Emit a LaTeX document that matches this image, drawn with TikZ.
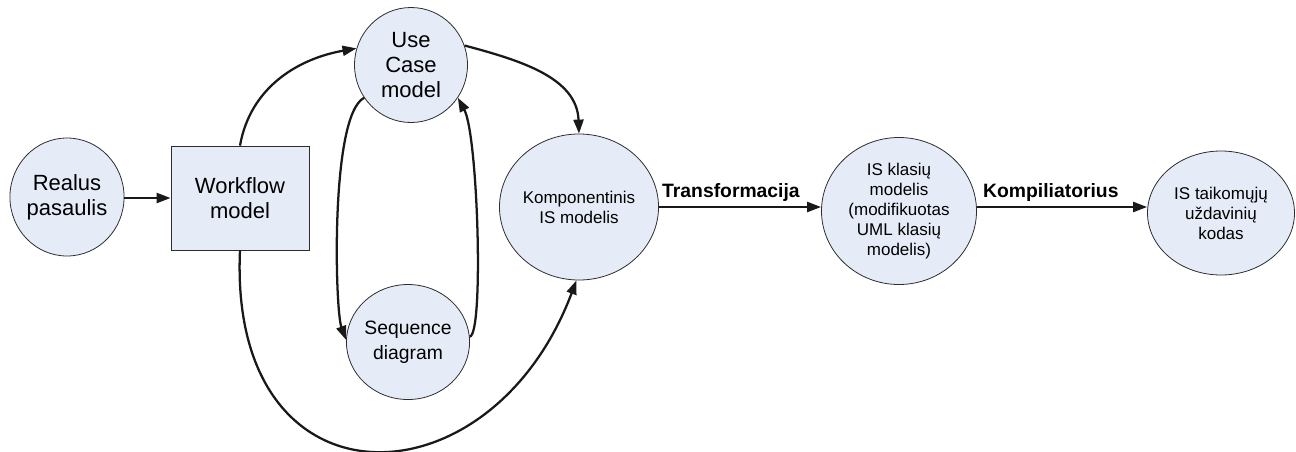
\documentclass[tikz,border=0pt]{standalone}
\usepackage{fontspec}
\setmainfont{Liberation Sans}
\usetikzlibrary{arrows.meta,shapes.geometric}
\definecolor{bubble}{RGB}{230,236,247}
\definecolor{edge}{RGB}{45,45,45}
\begin{document}
\begin{tikzpicture}[x=0.75pt,y=-0.75pt,
  bignode/.style={draw=edge, line width=0.6pt, fill=bubble, inner sep=0pt,
    align=center, font=\fontsize{16.5}{18.75}\selectfont},
  midnode/.style={bignode, font=\fontsize{14.5}{18.75}\selectfont},
  smallnode/.style={bignode, font=\fontsize{12.75}{15}\selectfont},
  bubblenode/.style={ellipse},
  flow/.style={line width=1.7pt, draw=black!90, -{Triangle[length=10.5pt,width=7.5pt]}},
  lbl/.style={font=\bfseries\fontsize{14.5}{17}\selectfont, inner sep=0pt}]
\useasboundingbox (0,0) rectangle (1296,451);

% nodes
\node[bignode, bubblenode, minimum width=85.5pt, minimum height=88.5pt] (rp) at (67,197) {Realus\\pasaulis};
\node[bignode, rectangle, minimum width=103.5pt, minimum height=78pt] (wf) at (240,198) {Workflow\\model};
\node[bignode, bubblenode, minimum width=84.75pt, minimum height=86.25pt] (uc) at (411,65) {Use\\Case\\model};
\node[midnode, bubblenode, minimum width=86.25pt, minimum height=86.25pt] (sq) at (408,342) {Sequence\\diagram};
\node[smallnode, bubblenode, minimum width=109.5pt, minimum height=109.5pt] (kp) at (579,207) {Komponentinis\\IS modelis};
\node[smallnode, bubblenode, minimum width=116.25pt, minimum height=110.25pt] (isk) at (899,211) {IS klasių\\modelis\\(modifikuotas\\UML klasių\\modelis)};
\node[smallnode, bubblenode, minimum width=110.25pt, minimum height=93pt] (ist) at (1221,213) {IS taikomųjų\\uždavinių\\kodas};

% straight connectors
\draw[flow] (rp.east |- 0,198) -- (wf.west |- 0,198);
\draw[flow] (kp.east) -- (kp.east -| isk.west);
\draw[flow] (isk.east |- kp.east) -- (kp.east -| ist.west);

% labels
\node[lbl, anchor=base west] (tlab) at ([xshift=2.25pt,yshift=7.5pt]kp.east) {Transformacija};
\node[lbl, anchor=base west] (klab) at ([xshift=4.5pt,yshift=7.5pt]isk.east |- kp.east) {Kompiliatorius};

% curved connectors
\draw[flow] (wf.north) to[out=80,in=190] (uc.163);
\draw[flow] (uc.20) to[out=-15,in=92] (kp.north);
\draw[flow] (uc.215) .. controls (330,115) and (335,310) .. (sq.178);
\draw[flow] (sq.5) .. controls (484,335) and (478,135) .. (uc.-35);
\draw[flow] (wf.south) .. controls (228,514) and (490,510) .. (kp.-92);
\end{tikzpicture}
\end{document}
